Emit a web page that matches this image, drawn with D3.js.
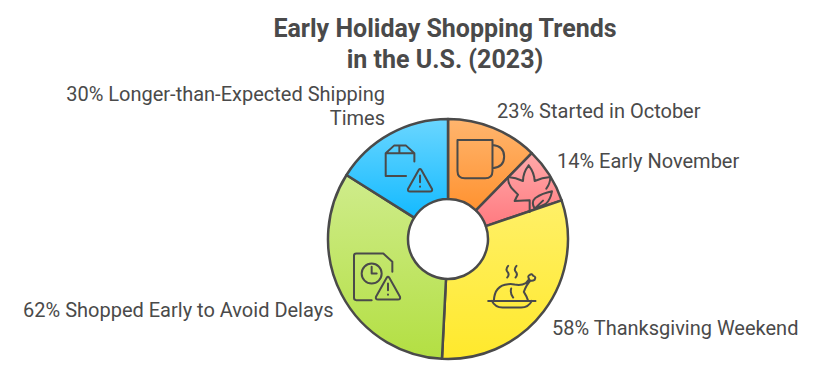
<!DOCTYPE html>
<html>
<head>
<meta charset="utf-8">
<script src="https://cdn.jsdelivr.net/npm/d3@7"></script>
<style>
  html, body { margin: 0; padding: 0; background: #fff; }
  text { font-family: Roboto, sans-serif; fill: #4a4a4a; }
  .title { font-size: 25px; font-weight: 700; }
  .label { font-size: 20px; }
  .icon path { fill: none; stroke: #4a4a4a; stroke-width: 6; stroke-linecap: round; stroke-linejoin: round; }
</style>
</head>
<body>
<div id="chart"></div>
<script>
const categories = ['Started in October', 'Early November', 'Thanksgiving Weekend', 'Shopped Early to Avoid Delays', 'Longer-than-Expected Shipping Times'];
const values = [23, 14, 58, 62, 30];
const gradientTop = ['#ffb56e', '#ffa9a9', '#fff068', '#cfec8c', '#6ad6ff'];
const gradientBottom = ['#ff9230', '#ff7a80', '#ffe92c', '#b3df42', '#14baff'];
const titleLines = ['Early Holiday Shopping Trends', 'in the U.S. (2023)'];

const width = 813, height = 374;
const cx = 448, cy = 239, outerR = 120, innerR = 40;

// label placement: anchor, x, y of each line
const labelPlace = [
    { anchor: 'start', x: 497, y: [118] },
    { anchor: 'start', x: 557, y: [168] },
    { anchor: 'start', x: 552, y: [335] },
    { anchor: 'end', x: 333.5, y: [317] },
    { anchor: 'end', x: 385, y: [101, 125] }
];
const labelLines = [
    ['23% Started in October'],
    ['14% Early November'],
    ['58% Thanksgiving Weekend'],
    ['62% Shopped Early to Avoid Delays'],
    ['30% Longer-than-Expected Shipping', 'Times']
];

// warning triangle, apex at dx,dy
const warn = (dx, dy) => `M${dx - 4} ${dy + 3} L${dx - 36} ${dy + 60} Q${dx - 38} ${dy + 68} ${dx - 30} ${dy + 68} L${dx + 30} ${dy + 68} Q${dx + 38} ${dy + 68} ${dx + 36} ${dy + 60} L${dx + 4} ${dy + 3} Q${dx} ${dy - 3} ${dx - 4} ${dy + 3} Z M${dx} ${dy + 20} L${dx} ${dy + 40} M${dx} ${dy + 53} L${dx} ${dy + 53.5}`;

// icons are drawn at 3x around their own centre, off = shift from slice centroid
const icons = [
    { off: [2, -5], d: 'M-68 -60 L37 -60 L37 33 Q37 55 15 55 L-46 55 Q-68 55 -68 33 Z M37 -45 Q72 -42 72 -10 Q72 22 37 25' },
    { off: [14, -9], d: 'M-3 -66 Q-20 -44 -20 -19 Q-42 -30 -65 -31 Q-66 -8 -48 9 L-35 22 Q-40 30 -45 41 L-2 39 M-3 -66 Q14 -44 15 -19 Q38 -30 62 -31 Q62 -12 50 4 M0 39 L0 74 M15 64 Q3 44 17 32 Q38 18 67 12 Q62 38 48 50 Q32 58 15 64 Z M15 64 L40 40' },
    { off: [0, 0], d: 'M-71 41 L71 41 M-60 41 Q-50 61 -28 61 L28 61 Q50 61 60 41 M-54 41 Q-52 -6 -11 -9 Q0 -10 8 -8 M-2 4 Q-6 18 4 31 M8 -8 Q28 -4 42 -12 L52 -24 Q46 -34 54 -37 Q60 -42 64 -34 Q74 -32 68 -22 Q62 -18 56 -20 Q44 -8 36 14 Q44 26 49 41 M-11 -64 Q-20 -54 -13 -46 Q-6 -38 -14 -29 M14 -64 Q5 -54 12 -46 Q19 -38 11 -29' },
    { off: [0, 0], d: 'M-16 73 L-62 73 Q-69 73 -69 66 L-69 -60 Q-69 -67 -62 -67 L19 -67 L46 -42 L46 -12 M-16 -37 A30 30 0 1 0 -16 23 A30 30 0 1 0 -16 -37 Z M-16 -27 L-16 -7 L-1 -7 ' + warn(33, 3) },
    { off: [0, 0], d: 'M-71 -47 L-46 -70 L-10 -70 L15 -47 L15 -22 M-71 -47 L-71 21 L-10 21 M-71 -47 L15 -47 M-30 -70 L-30 -47 ' + warn(32, 0) }
];

const svg = d3.select('#chart').append('svg')
    .attr('width', width)
    .attr('height', height)
    .style('display', 'block');

const defs = svg.append('defs');
categories.forEach((c, i) => {
    const grad = defs.append('linearGradient')
        .attr('id', 'slice' + i)
        .attr('x1', 0).attr('y1', 0).attr('x2', 0).attr('y2', 1);
    grad.append('stop').attr('offset', '0%').attr('stop-color', gradientTop[i]);
    grad.append('stop').attr('offset', '100%').attr('stop-color', gradientBottom[i]);
});

svg.selectAll('.title')
    .data(titleLines)
    .enter()
    .append('text')
    .attr('class', 'title')
    .attr('x', 445)
    .attr('y', (d, i) => 37 + i * 31)
    .attr('text-anchor', 'middle')
    .text(d => d);

const pie = d3.pie().sort(null);
const arc = d3.arc().innerRadius(innerR).outerRadius(outerR);
const g = svg.append('g').attr('transform', `translate(${cx},${cy})`);

g.selectAll('.slice')
    .data(pie(values))
    .enter()
    .append('path')
    .attr('class', 'slice')
    .attr('d', arc)
    .attr('fill', (d, i) => `url(#slice${i})`)
    .attr('stroke', '#4a4a4a')
    .attr('stroke-width', 2.5)
    .attr('stroke-linejoin', 'round');

g.selectAll('.icon')
    .data(pie(values))
    .enter()
    .append('g')
    .attr('class', 'icon')
    .attr('transform', (d, i) => {
        const c = arc.centroid(d);
        return `translate(${c[0] + icons[i].off[0]},${c[1] + icons[i].off[1]}) scale(${1 / 3})`;
    })
    .append('path')
    .attr('d', (d, i) => icons[i].d);

labelLines.forEach((lines, i) => {
    svg.selectAll('.label' + i)
        .data(lines)
        .enter()
        .append('text')
        .attr('class', 'label label' + i)
        .attr('x', labelPlace[i].x)
        .attr('y', (d, k) => labelPlace[i].y[k])
        .attr('text-anchor', labelPlace[i].anchor)
        .text(d => d);
});
</script>
</body>
</html>
